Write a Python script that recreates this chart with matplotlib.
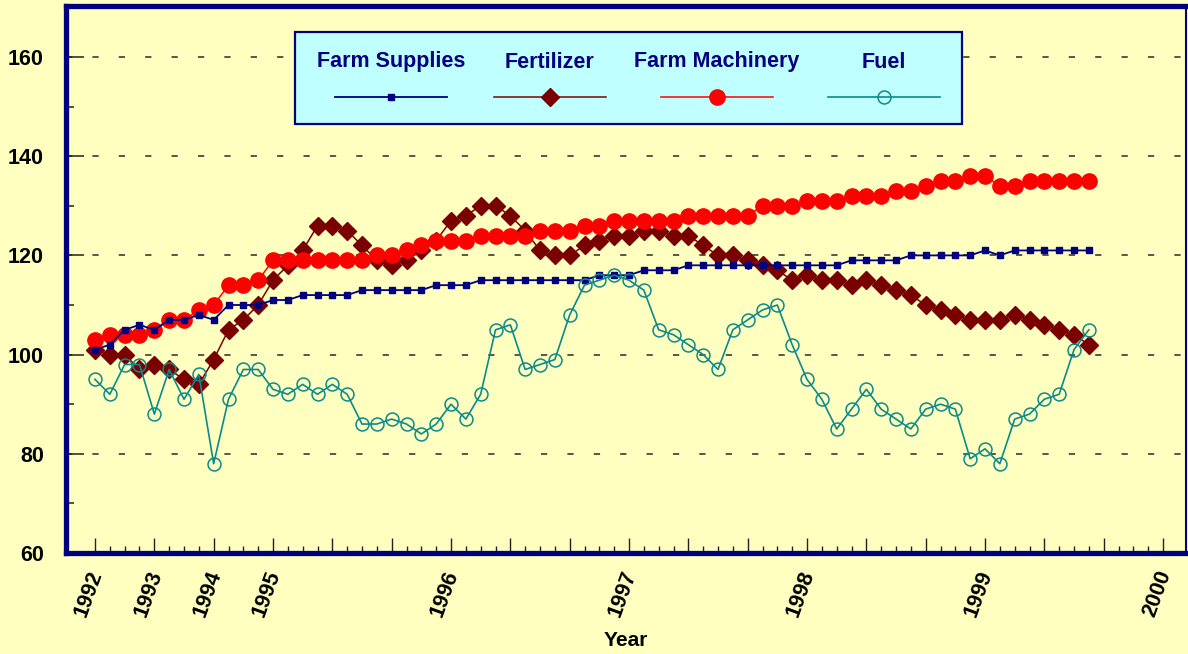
import matplotlib
matplotlib.use('Agg')
import matplotlib.pyplot as plt
from matplotlib.lines import Line2D
from matplotlib.patches import Rectangle
from matplotlib.ticker import FixedLocator
import matplotlib.transforms as mtransforms

plt.rcParams['font.family'] = ['Liberation Sans', 'DejaVu Sans']
plt.rcParams['lines.scale_dashes'] = False

# ---------------- data ----------------
# 1992-1994 quarterly, 1995 - Aug 1999 monthly
periods = [f"{y}Q{q}" for y in (1992, 1993, 1994) for q in (1, 2, 3, 4)] + \
          [f"{y}-{m:02d}" for y in range(1995, 2000) for m in range(1, 13)
           if not (y == 1999 and m > 8)]

series_names = ["Farm Supplies", "Fertilizer", "Farm Machinery", "Fuel"]

supplies = [101, 102, 105, 106, 105, 107, 107, 108, 107, 110, 110, 110,
            111, 111, 112, 112, 112, 112, 113, 113, 113, 113, 113, 114,
            114, 114, 115, 115, 115, 115, 115, 115, 115, 115, 116, 116,
            116, 117, 117, 117, 118, 118, 118, 118, 118, 118, 118, 118,
            118, 118, 118, 119, 119, 119, 119, 120, 120, 120, 120, 120,
            121, 120, 121, 121, 121, 121, 121, 121]

fertilizer = [101, 100, 100, 97, 98, 97, 95, 94, 99, 105, 107, 110,
              115, 118, 121, 126, 126, 125, 122, 119, 118, 119, 121, 123,
              127, 128, 130, 130, 128, 125, 121, 120, 120, 122, 123, 124,
              124, 125, 125, 124, 124, 122, 120, 120, 119, 118, 117, 115,
              116, 115, 115, 114, 115, 114, 113, 112, 110, 109, 108, 107,
              107, 107, 108, 107, 106, 105, 104, 102]

machinery = [103, 104, 104, 104, 105, 107, 107, 109, 110, 114, 114, 115,
             119, 119, 119, 119, 119, 119, 119, 120, 120, 121, 122, 123,
             123, 123, 124, 124, 124, 124, 125, 125, 125, 126, 126, 127,
             127, 127, 127, 127, 128, 128, 128, 128, 128, 130, 130, 130,
             131, 131, 131, 132, 132, 132, 133, 133, 134, 135, 135, 136,
             136, 134, 134, 135, 135, 135, 135, 135]

fuel = [95, 92, 98, 98, 88, 97, 91, 96, 78, 91, 97, 97,
        93, 92, 94, 92, 94, 92, 86, 86, 87, 86, 84, 86,
        90, 87, 92, 105, 106, 97, 98, 99, 108, 114, 115, 116,
        115, 113, 105, 104, 102, 100, 97, 105, 107, 109, 110, 102,
        95, 91, 85, 89, 93, 89, 87, 85, 89, 90, 89, 79,
        81, 78, 87, 88, 91, 92, 101, 105]

year_labels = ["1992", "1993", "1994", "1995", "1996", "1997", "1998", "1999", "2000"]
y_ticks = [60, 80, 100, 120, 140, 160]

# ---------------- figure ----------------
W, H = 1188, 654
BG = '#FFFFC0'
NAVY = '#000080'
fig = plt.figure(figsize=(W / 100, H / 100), dpi=100, facecolor=BG)
ax = fig.add_axes([66 / W, (H - 553) / H, (1186 - 66) / W, (553 - 5.5) / H])
ax.set_facecolor(BG)

x = list(range(len(periods)))

# tick positions of year starts: quarterly years have 4 periods, monthly 12
year_pos = []
pos = 0
for lab in year_labels:
    year_pos.append(pos)
    pos += 4 if int(lab) < 1995 else 12

styles = {
    "Farm Supplies": dict(color=NAVY, marker='s', markersize=4.6, lw=1.3,
                          mfc=NAVY, mec=NAVY),
    "Fertilizer": dict(color='#7A0000', marker='D', markersize=9.2, lw=1.1,
                       mfc='#7A0000', mec='#7A0000'),
    "Farm Machinery": dict(color='#FF0000', marker='o', markersize=11, lw=1.1,
                           mfc='#FF0000', mec='#FF0000'),
    "Fuel": dict(color='#0A8A8A', marker='o', markersize=9.3, lw=1.2,
                 mfc='none', mec='#0A8A8A', mew=1.1),
}
data = {"Farm Supplies": supplies, "Fertilizer": fertilizer,
        "Farm Machinery": machinery, "Fuel": fuel}

zorders = {"Fertilizer": 3, "Farm Machinery": 4, "Farm Supplies": 5, "Fuel": 6}
for name in series_names:
    ax.plot(x, data[name], zorder=zorders[name], **styles[name])

ax.set_xlim(-1.955, 73.55)
ax.set_ylim(60, 60 + (553 - 5.5) / 4.96)

# gridlines (dashed) only at labelled interior values
for v in y_ticks[1:]:
    ax.axhline(v, color='#2a2a2a', lw=1.1, dashes=(4.5, 14.5), zorder=1)

# y ticks
ax.yaxis.set_major_locator(FixedLocator(y_ticks))
ax.yaxis.set_minor_locator(FixedLocator([70, 90, 110, 130, 150]))
ax.set_yticklabels([str(v) for v in y_ticks])
ax.tick_params(axis='y', which='major', direction='in', length=13, width=1.1,
               color='#222222', pad=16, labelsize=15.5)
ax.tick_params(axis='y', which='minor', direction='in', length=6, width=1.1,
               color='#222222')
for lab in ax.get_yticklabels():
    lab.set_fontweight('bold')

# x ticks
maj = list(range(0, 73, 4))
ax.xaxis.set_major_locator(FixedLocator(maj))
ax.xaxis.set_minor_locator(FixedLocator(list(range(0, 73))))
ax.set_xticklabels([year_labels[year_pos.index(p)] if p in year_pos else '' for p in maj])
ax.tick_params(axis='x', which='major', direction='in', length=11, width=1.0,
               color='#222222', pad=13, labelsize=15.5)
ax.tick_params(axis='x', which='minor', direction='in', length=5, width=1.0,
               color='#222222')
offset = mtransforms.ScaledTranslation(2 / 100, 0, fig.dpi_scale_trans)
for lab in ax.get_xticklabels():
    lab.set_rotation(70)
    lab.set_rotation_mode('anchor')
    lab.set_ha('right')
    lab.set_va('center')
    lab.set_fontweight('bold')
    lab.set_transform(lab.get_transform() + offset)

ax.set_xlabel('Year', fontsize=15, fontweight='bold', labelpad=2)
ax.xaxis.set_label_coords(0.5, -(641 - 553) / 547.5)
ax.xaxis.label.set_va('center')

# spines
for s in ('left', 'top', 'bottom'):
    ax.spines[s].set_color(NAVY)
    ax.spines[s].set_linewidth(3.8)
ax.spines['right'].set_color(NAVY)
ax.spines['right'].set_linewidth(1.5)

# ---------------- legend box ----------------
def fx(px):
    return px / W

def fy(py):
    return 1 - py / H

fig.patches.append(Rectangle((fx(295), fy(124)), fx(962) - fx(295), fy(32) - fy(124),
                             transform=fig.transFigure, facecolor='#C0FFFF',
                             edgecolor=NAVY, lw=1.6, zorder=10))
centers = [391, 550, 717, 884]
for name, cx in zip(series_names, centers):
    fig.text(fx(cx), fy(62), name, color=NAVY, fontsize=15.5, fontweight='bold',
             ha='center', va='center', zorder=11)
    st = dict(styles[name])
    ln = Line2D([fx(cx - 56), fx(cx), fx(cx + 56)], [fy(97)] * 3,
                transform=fig.transFigure, markevery=[1], zorder=11, **st)
    fig.lines.append(ln)

fig.savefig('out.png', dpi=100, facecolor=BG)
